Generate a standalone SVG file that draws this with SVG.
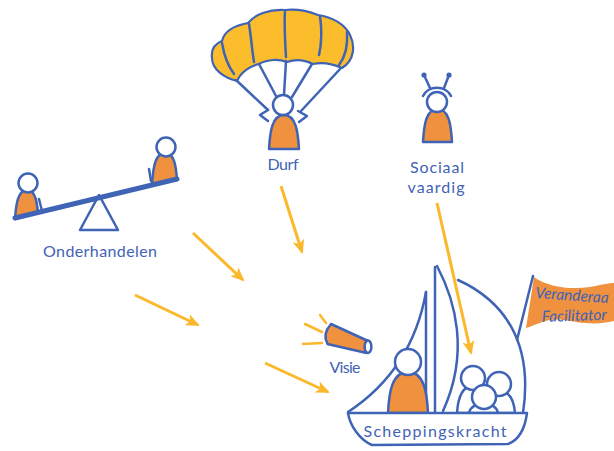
<svg xmlns="http://www.w3.org/2000/svg" width="614" height="451" viewBox="0 0 614 451">
  <defs>
    <style>
      .ln { fill: none; stroke: #3f63b5; stroke-width: 2.5; stroke-linecap: round; stroke-linejoin: round; }
      .org { fill: #f0913f; stroke: #3f63b5; stroke-width: 2.5; stroke-linejoin: round; }
      .wht { fill: #ffffff; stroke: #3f63b5; stroke-width: 2.5; stroke-linejoin: round; }
      .cnp { fill: #fcbd2c; stroke: #3f63b5; stroke-width: 2.2; stroke-linejoin: round; }
      .lbl { font-family: Lato, "Noto Sans", "Liberation Sans", sans-serif; fill: #3f63b5; font-size: 16px; }
      .flagtxt { font-family: Lato, "Noto Sans", "Liberation Sans", sans-serif; fill: #3f63b5; font-size: 15.5px; font-style: italic; }
      .arrow { fill: none; stroke: #fbb82a; stroke-width: 3; marker-end: url(#ah); }
      .ray { fill: none; stroke: #fbb82a; stroke-width: 2.5; stroke-linecap: round; }
    </style>
    <marker id="ah" viewBox="0 0 14 12" markerWidth="14" markerHeight="12" refX="12" refY="6" orient="auto" markerUnits="userSpaceOnUse">
      <path d="M0,0 L14,6 L0,12 L3.5,6 Z" fill="#fbb82a"/>
    </marker>
  </defs>

  <rect width="614" height="451" fill="#ffffff"/>

  <!-- Onderhandelen: seesaw with two figures -->
  <g id="onderhandelen">
    <path class="org" d="M15,219 C16,204 18,190 27,190 C36,190 37,204 38,213 Z"/>
    <circle class="wht" cx="28" cy="183" r="9.5"/>
    <line class="ln" x1="39" y1="199" x2="42" y2="211"/>
    <path class="org" d="M152,185 C153,168 155,153 165,153 C175,153 176,168 177,179 Z"/>
    <circle class="wht" cx="166" cy="147" r="9.5"/>
    <line class="ln" x1="149" y1="169" x2="151" y2="181"/>
    <polygon class="wht" points="99,195 80,230 118,230"/>
    <line x1="15" y1="218" x2="177" y2="179" stroke="#3f63b5" stroke-width="5" stroke-linecap="round"/>
    <text class="lbl" x="100" y="257" text-anchor="middle" textLength="114">Onderhandelen</text>
  </g>

  <!-- Durf: parachutist -->
  <g id="durf">
    <path class="cnp" d="M237,81 C225,78 212,70 212,58 C211,50 214,44 222,41 C224,32 232,26 248,23 C255,14 270,9 285,10 C295,9 308,11 318,15 C332,17 345,24 350,35 C355,45 355,60 342,68 C333,64 322,62 313,64 C305,60 295,59 287,62 C279,59 268,59 259,64 C250,66 241,72 237,81 Z"/>
    <path class="ln" d="M222,43 C224,55 228,66 234,74"/>
    <path class="ln" d="M249,24 C251,36 252,50 254,62"/>
    <path class="ln" d="M285,11 C284,25 285,40 286,57"/>
    <path class="ln" d="M320,16 C322,30 322,42 319,55"/>
    <path class="ln" d="M347,32 C348,45 345,57 339,65"/>
    <line class="ln" x1="236" y1="80" x2="268" y2="110"/>
    <line class="ln" x1="259" y1="64" x2="276" y2="96"/>
    <line class="ln" x1="286" y1="61" x2="284" y2="95"/>
    <line class="ln" x1="312" y1="64" x2="292" y2="97"/>
    <line class="ln" x1="341" y1="68" x2="301" y2="111"/>
    <path class="ln" d="M268,110 L260,115 L268,121"/>
    <path class="ln" d="M298,111 L307,116 L299,122"/>
    <path class="org" d="M269,149 C270,132 272,115 284,115 C296,115 298,132 299,149 Z"/>
    <circle class="wht" cx="283" cy="105" r="10"/>
    <text class="lbl" x="283" y="170" text-anchor="middle" textLength="31">Durf</text>
  </g>

  <!-- Sociaal vaardig: figure with antennae -->
  <g id="sociaal-vaardig">
    <line class="ln" x1="430" y1="88" x2="424" y2="75"/>
    <line class="ln" x1="444" y1="88" x2="449" y2="75"/>
    <circle cx="424" cy="75" r="2.6" fill="#3f63b5"/>
    <circle cx="449" cy="75" r="2.6" fill="#3f63b5"/>
    <path class="ln" d="M423,96 A15,13 0 0 1 451,96"/>
    <path class="org" d="M423,142 C424,125 426,109 437.5,109 C449,109 451,125 452,142 Z"/>
    <circle class="wht" cx="437" cy="102" r="10"/>
    <text class="lbl" x="437" y="173" text-anchor="middle" textLength="54">Sociaal</text>
    <text class="lbl" x="436" y="193" text-anchor="middle" textLength="57">vaardig</text>
  </g>

  <!-- Visie: megaphone -->
  <g id="visie">
    <line class="ray" x1="320" y1="315" x2="326" y2="323"/>
    <line class="ray" x1="305" y1="324" x2="322" y2="332"/>
    <line class="ray" x1="303" y1="344" x2="322" y2="343"/>
    <path class="org" d="M331,324 L367,340.5 L366.5,353 L327.5,344 Q322,334 331,324 Z"/>
    <ellipse class="wht" cx="368" cy="346.8" rx="3.4" ry="6.2"/>
    <text class="lbl" x="345" y="373" text-anchor="middle" textLength="31">Visie</text>
  </g>

  <!-- Scheppingskracht: sailing boat with crew -->
  <g id="scheppingskracht">
    <path class="ln" d="M426,292 Q412,370 348,412"/>
    <line class="ln" x1="426" y1="292" x2="426" y2="413"/>
    <line class="ln" x1="435" y1="267" x2="435" y2="413"/>
    <path class="ln" d="M437,266 C455,300 470,352 443,411"/>
    <path class="ln" d="M458,280 C502,300 534,340 523,413"/>
    <path class="org" d="M388,413 C389,392 392,372 408,372 C424,372 427,392 428,413 Z"/>
    <circle class="wht" cx="408" cy="362" r="13"/>
    <path class="wht" d="M457,413 C458,398 462,386 473,386 C484,386 487,398 488,413 Z"/>
    <path class="wht" d="M484,413 C485,400 489,391 499,391 C510,391 514,400 515,413 Z"/>
    <circle class="wht" cx="473" cy="378" r="12"/>
    <circle class="wht" cx="499" cy="384" r="12"/>
    <path class="wht" d="M469,413 C470,408 474,404 484,404 C494,404 497,408 498,413 Z"/>
    <circle class="wht" cx="484" cy="397" r="12"/>
    <path class="wht" d="M348,413 L527,413 C525,428 519,440 508,444 L372,445 C360,440 350,426 348,413 Z"/>
    <text class="lbl" x="435" y="437" text-anchor="middle" font-size="18.5" textLength="143">Scheppingskracht</text>
  </g>

  <!-- Veranderaar / Facilitator: flag on the mainsail -->
  <g id="veranderaar-facilitator">
    <path d="M534,277 C548,287 570,290 590,287 C601,285 609,283 614,283 L614,321 C605,323 596,324 585,323 C572,322 562,318 550,320 C540,322 533,326 526,328 Z" fill="#f0913f"/>
    <line class="ln" x1="533" y1="276" x2="517" y2="340"/>
    <text class="flagtxt" transform="translate(535,298) rotate(4)">Veranderaa</text>
    <text class="flagtxt" transform="translate(542,322) rotate(-2)">Facilitator</text>
  </g>

  <!-- Connectors -->
  <g id="connectors">
    <line class="arrow" x1="281" y1="186" x2="302" y2="252"/>
    <line class="arrow" x1="193" y1="233" x2="243" y2="280"/>
    <line class="arrow" x1="135" y1="295" x2="198" y2="325"/>
    <line class="arrow" x1="265" y1="363" x2="328" y2="392"/>
    <line class="arrow" x1="437" y1="203" x2="471" y2="353"/>
  </g>
</svg>
